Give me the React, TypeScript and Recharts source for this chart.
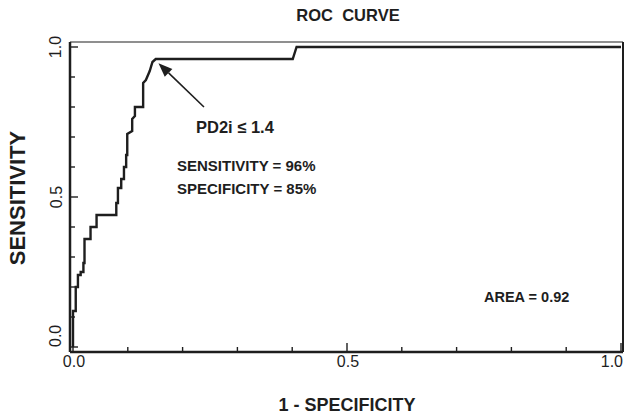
import { LineChart, Line, XAxis, YAxis, ReferenceLine } from "recharts";

// ROC curve vertices
const fpr = [
  0, 0, 0.005, 0.005, 0.009, 0.009, 0.014, 0.014, 0.019, 0.019, 0.021, 0.021,
  0.032, 0.032, 0.043, 0.043, 0.079, 0.079, 0.082, 0.082, 0.088, 0.088, 0.093,
  0.093, 0.097, 0.097, 0.099, 0.099, 0.108, 0.108, 0.113, 0.113, 0.128, 0.128,
  0.133, 0.14, 0.145, 0.151, 0.401, 0.408, 1.0,
];
const tpr = [
  0, 0.12, 0.12, 0.2, 0.2, 0.24, 0.24, 0.25, 0.25, 0.28, 0.28, 0.36, 0.36, 0.4,
  0.4, 0.44, 0.44, 0.48, 0.48, 0.53, 0.53, 0.56, 0.56, 0.6, 0.6, 0.64, 0.64,
  0.71, 0.72, 0.76, 0.77, 0.8, 0.8, 0.88, 0.89, 0.92, 0.95, 0.96, 0.96, 1.0, 1.0,
];

const axisTicks = [0, 0.1, 0.2, 0.3, 0.4, 0.5, 0.6, 0.7, 0.8, 0.9, 1.0];
const majorTicks = [0, 0.5, 1.0];

// cut-off point annotation (arrow tail -> tip)
const arrowTail = { x: 0.239, y: 0.8 };
const arrowTip = { x: 0.156, y: 0.946 };

const rocData = fpr.map((x, i) => ({ x, y: tpr[i] }));

const INK = "#1e1e1e";
const FONT = "'Liberation Sans', Arial, Helvetica, sans-serif";
const X_DOMAIN: [number, number] = [-0.00547, 1.00365];
const Y_DOMAIN: [number, number] = [-0.01667, 1.01667];

function XTick(props: any) {
  const { x, y, payload } = props;
  const v = payload.value;
  const major = majorTicks.includes(v);
  return (
    <g>
      <line x1={x} x2={x} y1={y} y2={y - (major ? 9 : 5)} stroke={INK} strokeWidth={1.4} />
      {major && (
        <text
          x={v === 1 ? x + 2 : x + 1}
          y={y + 15}
          textAnchor={v === 1 ? "end" : "middle"}
          fontSize={16}
          fontFamily={FONT}
          fill={INK}
        >
          {v.toFixed(1)}
        </text>
      )}
    </g>
  );
}

function YTick(props: any) {
  const { x, y, payload } = props;
  const v = payload.value;
  const major = majorTicks.includes(v);
  const lx = x - 14;
  return (
    <g>
      <line x1={x} x2={x + (major ? 8 : 5)} y1={y} y2={y} stroke={INK} strokeWidth={1.4} />
      {major && (
        <text
          x={lx}
          y={y}
          transform={`rotate(-90 ${lx} ${y})`}
          textAnchor={v === 0 ? "start" : "middle"}
          dominantBaseline="central"
          fontSize={16}
          fontFamily={FONT}
          fill={INK}
        >
          {v.toFixed(1)}
        </text>
      )}
    </g>
  );
}

function Arrow(props: any) {
  const { x1, y1, x2, y2 } = props;
  const dx = x2 - x1;
  const dy = y2 - y1;
  const len = Math.sqrt(dx * dx + dy * dy);
  const ux = dx / len;
  const uy = dy / len;
  const head = 14;
  const half = 5.5;
  const bx = x2 - ux * head;
  const by = y2 - uy * head;
  return (
    <g>
      <line x1={x1} y1={y1} x2={bx} y2={by} stroke={INK} strokeWidth={1.6} />
      <polygon
        points={`${x2},${y2} ${bx - uy * half},${by + ux * half} ${bx + uy * half},${by - ux * half}`}
        fill={INK}
      />
    </g>
  );
}

const textBase: React.CSSProperties = {
  position: "absolute",
  fontFamily: FONT,
  fontWeight: "bold",
  color: INK,
  whiteSpace: "pre",
  lineHeight: "1",
  transform: "translateY(-50%)",
};

export default function App() {
  return (
    <div style={{ position: "absolute", left: 0, top: 0, width: 626, height: 420, background: "#fff" }}>
      <LineChart
        width={626}
        height={420}
        data={rocData}
        margin={{ top: 41, right: 2, bottom: 67, left: 69 }}
      >
        <XAxis
          dataKey="x"
          type="number"
          domain={X_DOMAIN}
          ticks={axisTicks}
          interval={0}
          height={1}
          tickSize={0}
          tickMargin={0}
          tickLine={false}
          tick={<XTick />}
          axisLine={{ stroke: INK, strokeWidth: 2.5 }}
        />
        <XAxis
          xAxisId="top"
          orientation="top"
          type="number"
          domain={X_DOMAIN}
          height={1}
          tick={false}
          tickLine={false}
          axisLine={{ stroke: "#6a6a6a", strokeWidth: 1.6 }}
        />
        <YAxis
          type="number"
          domain={Y_DOMAIN}
          ticks={axisTicks}
          interval={0}
          width={1}
          tickSize={0}
          tickMargin={0}
          tickLine={false}
          tick={<YTick />}
          axisLine={{ stroke: INK, strokeWidth: 2.5 }}
        />
        <YAxis
          yAxisId="right"
          orientation="right"
          type="number"
          domain={Y_DOMAIN}
          width={1}
          tick={false}
          tickLine={false}
          axisLine={{ stroke: INK, strokeWidth: 2 }}
        />
        <Line
          dataKey="y"
          type="linear"
          stroke={INK}
          strokeWidth={2.4}
          dot={false}
          activeDot={false}
          strokeLinejoin="miter"
          isAnimationActive={false}
        />
        <ReferenceLine segment={[arrowTail, arrowTip]} shape={<Arrow />} />
      </LineChart>

      <div style={{ ...textBase, left: 0, width: 696, textAlign: "center", top: 15, fontSize: 16.5 }}>
        ROC  CURVE
      </div>
      <div style={{ ...textBase, left: 0, width: 694, textAlign: "center", top: 405, fontSize: 18 }}>
        1 - SPECIFICITY
      </div>
      <div
        style={{
          ...textBase,
          left: 18,
          top: 198,
          fontSize: 22,
          transform: "translate(-50%, -50%) rotate(-90deg)",
        }}
      >
        SENSITIVITY
      </div>
      <div style={{ ...textBase, left: 196, top: 127, fontSize: 16.5 }}>PD2i ≤ 1.4</div>
      <div style={{ ...textBase, left: 177, top: 165, fontSize: 15 }}>SENSITIVITY = 96%</div>
      <div style={{ ...textBase, left: 177, top: 188, fontSize: 15 }}>SPECIFICITY = 85%</div>
      <div style={{ ...textBase, left: 484, top: 297, fontSize: 14.5 }}>AREA = 0.92</div>
    </div>
  );
}
